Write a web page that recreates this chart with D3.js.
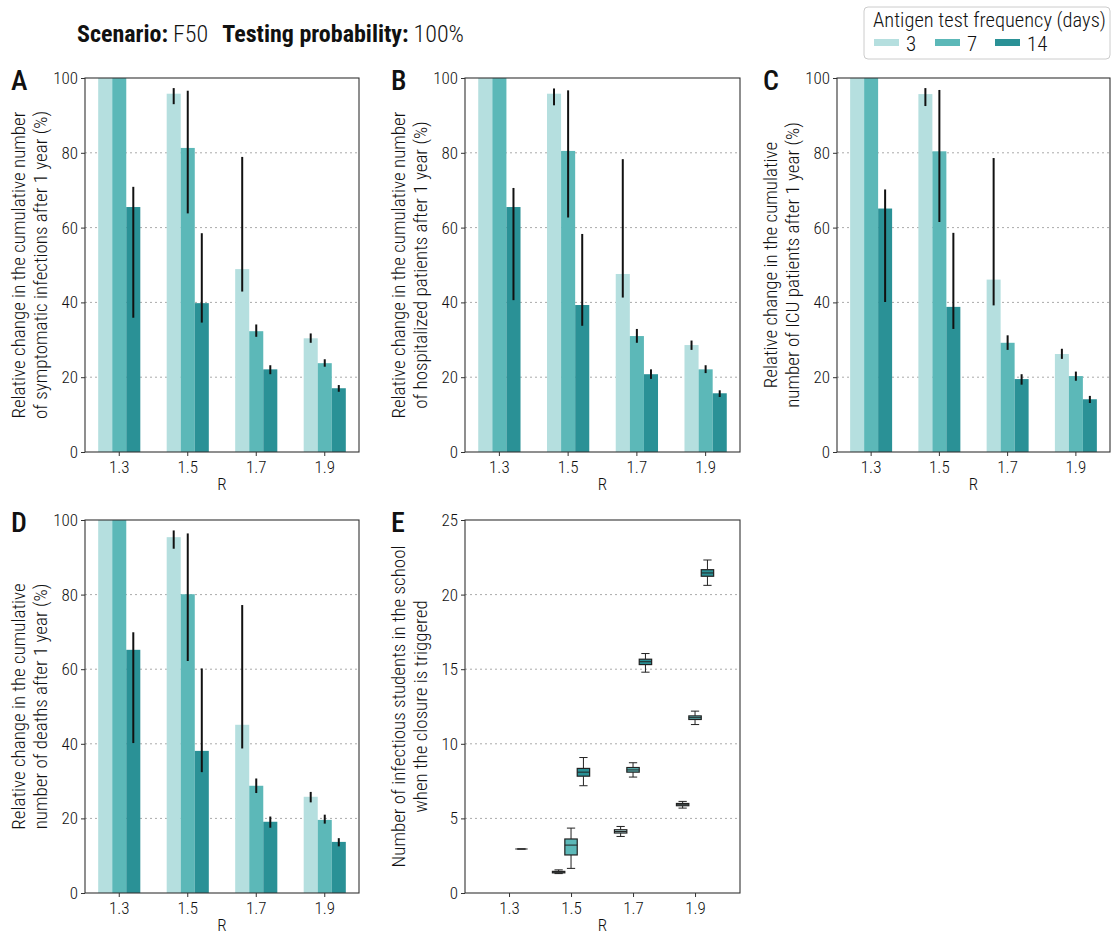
<!DOCTYPE html>
<html>
<head>
<meta charset="utf-8">
<script src="https://cdn.jsdelivr.net/npm/d3@7"></script>
<style>
  body { margin: 0; background: #fff; }
  text { font-family: "Roboto Condensed", "Liberation Sans Narrow", "Roboto", sans-serif; fill: #111; font-weight: 300; }
</style>
</head>
<body>
<div id="chart"></div>
<script>
// categories
const rValues = ["1.3", "1.5", "1.7", "1.9"];
const frequencies = ["3", "7", "14"];
const colors = ["#b5dfdf", "#5cb8b8", "#2a9196"];

// bar values per R: [3 days, 7 days, 14 days]; error bar low / high (null = none)
const infMean = [[100, 100, 65.5], [95.8, 81.3, 39.8], [48.9, 32.3, 22.1], [30.4, 23.75, 17.05]];
const infLow  = [[null, null, 35.9], [93.0, 63.8, 34.6], [42.9, 30.8, 20.8], [29.2, 22.8, 16.1]];
const infHigh = [[null, null, 70.9], [97.3, 96.6, 58.5], [78.9, 34.1, 23.2], [31.7, 24.8, 17.9]];

const hospMean = [[100, 100, 65.5], [95.8, 80.5, 39.3], [47.6, 31.0, 20.8], [28.6, 22.1, 15.7]];
const hospLow  = [[null, null, 40.6], [92.7, 62.7, 33.75], [41.3, 29.2, 19.55], [27.3, 21.1, 14.7]];
const hospHigh = [[null, null, 70.6], [97.2, 96.7, 58.3], [78.3, 32.9, 22.1], [29.8, 23.2, 16.5]];

const icuMean = [[100, 100, 65.1], [95.7, 80.4, 38.8], [46.1, 29.2, 19.5], [26.2, 20.3, 14.1]];
const icuLow  = [[null, null, 40.1], [92.5, 61.5, 32.9], [39.2, 27.3, 18.0], [24.9, 19.05, 13.1]];
const icuHigh = [[null, null, 70.2], [97.3, 96.8, 58.6], [78.6, 31.2, 20.8], [27.6, 21.5, 15.0]];

const deathMean = [[100, 100, 65.2], [95.4, 80.1, 38.1], [45.1, 28.75, 19.1], [25.8, 19.6, 13.7]];
const deathLow  = [[null, null, 40.2], [92.3, 62.2, 32.4], [38.75, 26.8, 17.5], [24.3, 18.6, 12.5]];
const deathHigh = [[null, null, 69.9], [97.2, 96.4, 60.2], [77.2, 30.7, 20.5], [27.1, 21.0, 14.7]];

// box plot stats: [R, frequency index, whisker low, q1, median, q3, whisker high]
const boxStats = [
  [1.3, 2, 2.95, 2.95, 2.95, 2.95, 2.95],
  [1.5, 0, 1.3, 1.35, 1.4, 1.45, 1.55],
  [1.5, 1, 1.65, 2.55, 3.21, 3.62, 4.35],
  [1.5, 2, 7.19, 7.83, 8.1, 8.35, 9.08],
  [1.7, 0, 3.79, 4.02, 4.12, 4.24, 4.46],
  [1.7, 1, 7.77, 8.1, 8.25, 8.41, 8.73],
  [1.7, 2, 14.8, 15.31, 15.5, 15.67, 16.05],
  [1.9, 0, 5.69, 5.85, 5.92, 6.0, 6.14],
  [1.9, 1, 11.29, 11.63, 11.75, 11.87, 12.19],
  [1.9, 2, 20.62, 21.23, 21.45, 21.67, 22.32]
];

const barTicks = [0, 20, 40, 60, 80, 100];
const boxTicks = [0, 5, 10, 15, 20, 25];

const svg = d3.select("#chart").append("svg")
  .attr("width", 1112).attr("height", 934);

// title
const title = svg.append("text").attr("x", 77).attr("y", 42).style("font-size", "24px");
title.append("tspan").style("font-weight", "bold").text("Scenario:");
title.append("tspan").attr("dx", 5).text("F50");
title.append("tspan").attr("dx", 14).style("font-weight", "bold").text("Testing probability:");
title.append("tspan").attr("dx", 5).text("100%");

// legend
const leg = svg.append("g");
leg.append("rect").attr("x", 864).attr("y", 7).attr("width", 246).attr("height", 52)
  .attr("rx", 4).attr("fill", "#fff").attr("stroke", "#ccc");
leg.append("text").attr("x", 873).attr("y", 27).style("font-size", "20.5px").text("Antigen test frequency (days)");
const legX = [874, 935, 995];
frequencies.forEach((f, i) => {
  leg.append("rect").attr("x", legX[i]).attr("y", 39).attr("width", 25).attr("height", 7).attr("fill", colors[i]);
  leg.append("text").attr("x", legX[i] + 32).attr("y", 51).style("font-size", "21px").text(f);
});

function frame(g, x0, x1, y0, y1, letter, lab1, lab2) {
  g.append("rect").attr("x", x0).attr("y", y0).attr("width", x1 - x0).attr("height", y1 - y0)
    .attr("fill", "none").attr("stroke", "#333").attr("stroke-width", 1.1);
  g.append("text").attr("x", x0 - 74).attr("y", y0 + 12).style("font-size", "28px")
    .style("font-weight", 500).text(letter);
  const cy = (y0 + y1) / 2;
  g.append("text").attr("transform", `translate(${x0 - 60},${cy}) rotate(-90)`)
    .attr("text-anchor", "middle").style("font-size", "19px").text(lab1);
  g.append("text").attr("transform", `translate(${x0 - 38},${cy}) rotate(-90)`)
    .attr("text-anchor", "middle").style("font-size", "19px").text(lab2);
  g.append("text").attr("x", (x0 + x1) / 2).attr("y", y1 + 38)
    .attr("text-anchor", "middle").style("font-size", "17px").text("R");
}

function styleAxis(a) {
  a.select(".domain").remove();
  a.selectAll(".tick line").attr("stroke", "#333");
  a.selectAll(".tick text").style("font-size", "17px").attr("fill", "#111");
}

function barPanel(x0, x1, y0, y1, letter, lab1, lab2, mean, low, high) {
  const g = svg.append("g");
  const x = d3.scaleBand().domain(rValues).range([x0, x1]).padding(0);
  const y = d3.scaleLinear().domain([0, 100]).range([y1, y0]);
  const bw = x.bandwidth() * 0.205;

  // grid
  g.selectAll(".grid").data([20, 40, 60, 80]).join("line")
    .attr("x1", x0).attr("x2", x1).attr("y1", d => y(d)).attr("y2", d => y(d))
    .attr("stroke", "#aaa").attr("stroke-dasharray", "2,3");

  rValues.forEach((r, ri) => {
    frequencies.forEach((f, fi) => {
      const cx = x(r) + x.bandwidth() / 2 + (fi - 1) * bw;
      g.append("rect").attr("x", cx - bw / 2).attr("y", y(mean[ri][fi]))
        .attr("width", bw).attr("height", y(0) - y(mean[ri][fi])).attr("fill", colors[fi]);
      if (low[ri][fi] !== null) {
        g.append("line").attr("x1", cx).attr("x2", cx)
          .attr("y1", y(low[ri][fi])).attr("y2", y(high[ri][fi]))
          .attr("stroke", "#111").attr("stroke-width", 2);
      }
    });
  });

  styleAxis(g.append("g").attr("transform", `translate(${x0},0)`)
    .call(d3.axisLeft(y).tickValues(barTicks).tickSize(4).tickPadding(3)));
  styleAxis(g.append("g").attr("transform", `translate(0,${y1})`)
    .call(d3.axisBottom(x).tickSize(4).tickPadding(5)));
  frame(g, x0, x1, y0, y1, letter, lab1, lab2);
}

barPanel(85, 359, 78, 452, "A", "Relative change in the cumulative number",
  "of symptomatic infections after 1 year (%)", infMean, infLow, infHigh);
barPanel(465, 740, 78, 452, "B", "Relative change in the cumulative number",
  "of hospitalized patients after 1 year (%)", hospMean, hospLow, hospHigh);
barPanel(837, 1110, 78, 452, "C", "Relative change in the cumulative",
  "number of ICU patients after 1 year (%)", icuMean, icuLow, icuHigh);
barPanel(85, 359, 520, 893, "D", "Relative change in the cumulative",
  "number of deaths after 1 year (%)", deathMean, deathLow, deathHigh);

// panel E: box plots
(function () {
  const x0 = 465, x1 = 740, y0 = 520, y1 = 893;
  const g = svg.append("g");
  const x = d3.scaleLinear().domain([1.158, 2.045]).range([x0, x1]);
  const y = d3.scaleLinear().domain([0, 25]).range([y1, y0]);
  const off = 0.04, bw = 0.04;
  const pxW = x(bw) - x(0);

  g.selectAll(".grid").data([5, 10, 15, 20]).join("line")
    .attr("x1", x0).attr("x2", x1).attr("y1", d => y(d)).attr("y2", d => y(d))
    .attr("stroke", "#aaa").attr("stroke-dasharray", "2,3");

  boxStats.forEach(b => {
    const [r, fi, wl, q1, med, q3, wh] = b;
    const cx = x(r + (fi - 1) * off);
    const bg = g.append("g");
    bg.append("line").attr("x1", cx).attr("x2", cx).attr("y1", y(wl)).attr("y2", y(q1)).attr("stroke", "#222");
    bg.append("line").attr("x1", cx).attr("x2", cx).attr("y1", y(q3)).attr("y2", y(wh)).attr("stroke", "#222");
    bg.append("line").attr("x1", cx - pxW / 3).attr("x2", cx + pxW / 3).attr("y1", y(wl)).attr("y2", y(wl)).attr("stroke", "#222");
    bg.append("line").attr("x1", cx - pxW / 3).attr("x2", cx + pxW / 3).attr("y1", y(wh)).attr("y2", y(wh)).attr("stroke", "#222");
    bg.append("rect").attr("x", cx - pxW / 2).attr("y", y(q3)).attr("width", pxW)
      .attr("height", y(q1) - y(q3)).attr("fill", colors[fi]).attr("stroke", "#222").attr("stroke-width", 1.2);
    bg.append("line").attr("x1", cx - pxW / 2).attr("x2", cx + pxW / 2).attr("y1", y(med)).attr("y2", y(med)).attr("stroke", "#222");
  });

  styleAxis(g.append("g").attr("transform", `translate(${x0},0)`)
    .call(d3.axisLeft(y).tickValues(boxTicks).tickSize(4).tickPadding(3)));
  styleAxis(g.append("g").attr("transform", `translate(0,${y1})`)
    .call(d3.axisBottom(x).tickValues(rValues.map(Number)).tickFormat(d3.format(".1f")).tickSize(4).tickPadding(5)));
  frame(g, x0, x1, y0, y1, "E", "Number of infectious students in the school",
    "when the closure is triggered");
})();
</script>
</body>
</html>
